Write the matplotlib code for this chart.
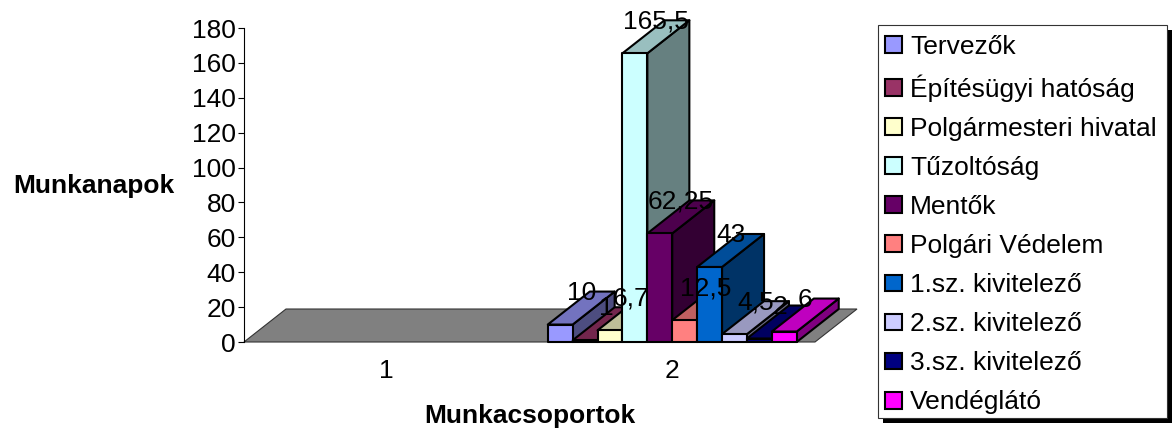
import numpy as np
import matplotlib
matplotlib.use('Agg')
import matplotlib.pyplot as plt
from matplotlib.patches import Polygon, Patch, Rectangle
from matplotlib.colors import to_rgb

plt.rcParams['font.family'] = ['Liberation Sans', 'DejaVu Sans']

categories = ['1', '2']
series_names = ['Tervezők', 'Építésügyi hatóság', 'Polgármesteri hivatal', 'Tűzoltóság', 'Mentők',
                'Polgári Védelem', '1.sz. kivitelező', '2.sz. kivitelező', '3.sz. kivitelező', 'Vendéglátó']
values_cat2 = [10, 1, 6.7, 165.5, 62.25, 12.5, 43, 4.5, 2, 6]
value_labels = ['10', '1', '6,7', '165,5', '62,25', '12,5', '43', '4,5', '2', '6']
colors = ['#9999FF', '#993366', '#FFFFCC', '#CCFFFF', '#660066',
          '#FF8080', '#0066CC', '#CCCCFF', '#000080', '#FF00FF']
yticks = list(range(0, 181, 20))

W, H = 1176, 437
fs = 19
fig = plt.figure(figsize=(W/100, H/100), dpi=100)
ax = fig.add_axes([244/W, (H-342)/H, 571/W, 314/H])
ax.set_xlim(0.5, 2.5)
ax.set_ylim(0, 180)

#%% oblique depth in data units
dx = 42/285.5
dy = 33/1.745
bar_w = 0.0872
edge_lw = 1.5


def shade(c, f):
    return tuple(v*f for v in to_rgb(c))


# floor
ax.add_patch(Polygon([(0.5, 0), (2.5, 0), (2.5+dx, dy), (0.5+dx, dy)], closed=True, fc='#808080',
                     ec='#333333', lw=0.8, clip_on=False, zorder=1))

x0 = 2 - bar_w*len(values_cat2)/2
for i, v in enumerate(values_cat2):
    l = x0 + i*bar_w
    r = l + bar_w
    c = colors[i]
    z = 2 + i
    pk = dict(closed=True, ec='k', lw=edge_lw, clip_on=False, zorder=z, joinstyle='round')
    ax.add_patch(Polygon([(r, 0), (r+dx, dy), (r+dx, v+dy), (r, v)], fc=shade(c, 0.5), **pk))
    ax.add_patch(Polygon([(l, v), (r, v), (r+dx, v+dy), (l+dx, v+dy)], fc=shade(c, 0.75), **pk))
    ax.add_patch(Polygon([(l, 0), (r, 0), (r, v), (l, v)], fc=c, **pk))

for i, v in enumerate(values_cat2):
    xc = x0 + (i+0.5)*bar_w + dx/2
    ax.annotate(value_labels[i], (xc, v+dy/2), xytext=(0, 6), textcoords='offset points',
                ha='center', va='baseline', fontsize=fs, color='k', zorder=30, annotation_clip=False)

for s in ['top', 'right', 'bottom']:
    ax.spines[s].set_visible(False)
ax.spines['left'].set_linewidth(0.8)
ax.set_yticks(yticks)
ax.set_xticks([1, 2])
ax.set_xticklabels(categories)
ax.tick_params(axis='x', length=0, pad=12, labelsize=fs)
ax.tick_params(axis='y', length=4, width=0.8, pad=2, labelsize=fs)

fig.text(94/W, 1-186/H, 'Munkanapok', ha='center', va='center', fontsize=fs, fontweight='bold')
fig.text(530/W, 1-416/H, 'Munkacsoportok', ha='center', va='center', fontsize=fs, fontweight='bold')

# legend box + hard shadow, entries drawn by the legend itself
fig.add_artist(Rectangle((883/W, 1-423/H), 289/W, 393/H, transform=fig.transFigure, fc='k', ec='none'))
fig.add_artist(Rectangle((878/W, 1-418/H), 289/W, 393/H, transform=fig.transFigure, fc='w', ec='#333333', lw=0.8))
handles = [Patch(fc=c, ec='k', lw=edge_lw) for c in colors]
leg = fig.legend(handles, series_names, loc='upper left', bbox_to_anchor=(878/W, 1-28/H),
                 borderaxespad=0, fontsize=fs, frameon=False, labelspacing=0.572,
                 handlelength=0.64, handleheight=0.6, handletextpad=0.3, borderpad=0.27)

fig.savefig('out.png', dpi=100)
